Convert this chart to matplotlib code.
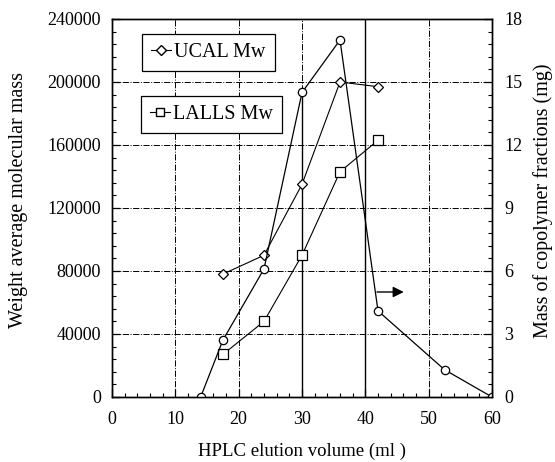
import matplotlib.pyplot as plt
import numpy as np
from matplotlib.lines import Line2D
from matplotlib.ticker import MultipleLocator

plt.rcParams['font.family'] = ['Liberation Serif', 'DejaVu Serif']

# UCAL weight average molecular mass
ucal_vol = [17.5, 24, 30, 36, 42]
ucal_mw = [78000, 90000, 135000, 200000, 197000]

# LALLS weight average molecular mass
lalls_vol = [17.5, 24, 30, 36, 42]
lalls_mw = [27000, 48000, 90000, 143000, 163000]

# mass of copolymer in each fraction (mg)
mass_vol = [14, 17.5, 24, 30, 36, 42, 52.5, 60]
mass_mg = [0, 2.7, 6.1, 14.5, 17.0, 4.1, 1.3, 0]

fig = plt.figure(figsize=(5.55, 4.62), dpi=100)
ax = fig.add_axes([0.2018, 0.1407, 0.6847, 0.8182])
ax2 = ax.twinx()

ax.set_xlim(0, 60)
ax.set_ylim(0, 240000)
ax2.set_ylim(0, 18)

# dash-dot grid, with the 30 and 40 ml lines drawn solid
for x in [10, 20, 50]:
    ax.axvline(x, color='black', lw=0.7, ls='-.', zorder=0)
ax.axvline(30, ymax=0.81, color='black', lw=1.0, zorder=0)
ax.axvline(30, ymin=0.81, color='black', lw=0.7, ls='-.', zorder=0)
ax.axvline(40, color='black', lw=1.0, zorder=0)
for y in [40000, 80000, 120000, 160000, 200000]:
    ax.axhline(y, color='black', lw=0.7, ls='-.', zorder=0)

ax.plot(ucal_vol, ucal_mw, color='black', lw=0.8, marker='D', ms=5.5,
        mfc='white', mec='black', mew=0.9)
ax.plot(lalls_vol, lalls_mw, color='black', lw=0.8, marker='s', ms=6.5,
        mfc='white', mec='black', mew=0.9)
ax2.plot(mass_vol, mass_mg, color='black', lw=0.9, marker='o', ms=6,
         mfc='white', mec='black', mew=0.9)

# arrow pointing to the right-hand axis
ax2.annotate('', xy=(46.5, 5.0), xytext=(41.4, 5.0),
             arrowprops=dict(arrowstyle='-|>', color='black', lw=1.0,
                             mutation_scale=16))

ax.xaxis.set_major_locator(MultipleLocator(10))
ax.xaxis.set_minor_locator(MultipleLocator(2))
ax.yaxis.set_major_locator(MultipleLocator(40000))
ax.yaxis.set_minor_locator(MultipleLocator(8000))
ax2.yaxis.set_major_locator(MultipleLocator(3))
ax2.yaxis.set_minor_locator(MultipleLocator(0.6))

ax.tick_params(axis='both', which='both', direction='in', labelsize=13,
               right=False, top=False)
ax.tick_params(axis='both', which='major', length=6, width=0.9)
ax.tick_params(axis='both', which='minor', length=3, width=0.8)
ax.tick_params(axis='y', pad=8)
ax.tick_params(axis='x', pad=10)
ax2.tick_params(axis='y', which='both', direction='in', labelsize=13, pad=9)
ax2.tick_params(axis='y', which='major', length=6, width=0.9)
ax2.tick_params(axis='y', which='minor', length=3, width=0.8)

for a in (ax, ax2):
    for spine in a.spines.values():
        spine.set_linewidth(1.0)

ax.set_xlabel('HPLC elution volume (ml )', fontsize=13.5)
ax.xaxis.set_label_coords(0.5, -0.122)
ax.set_ylabel('Weight average molecular mass', fontsize=14.5)
ax.yaxis.set_label_coords(-0.22, 0.52)
ax2.set_ylabel('Mass of copolymer fractions (mg)', fontsize=14.5)
ax2.yaxis.set_label_coords(1.108, 0.52)

# two separate boxed keys
ucal_key = Line2D([], [], color='black', lw=0.8, marker='D', ms=5,
                  mfc='white', mec='black')
lalls_key = Line2D([], [], color='black', lw=0.8, marker='s', ms=6,
                   mfc='white', mec='black')
leg1 = ax2.legend([ucal_key], ['UCAL Mw'], loc='upper left',
                  bbox_to_anchor=(0.079, 0.96), fontsize=14.5, frameon=True,
                  fancybox=False, edgecolor='black', framealpha=1,
                  handlelength=1.0, handletextpad=0.15, borderpad=0.45,
                  borderaxespad=0)
leg1.get_frame().set_linewidth(0.9)
ax2.add_artist(leg1)
leg2 = ax2.legend([lalls_key], ['LALLS Mw'], loc='upper left',
                  bbox_to_anchor=(0.076, 0.796), fontsize=14.5, frameon=True,
                  fancybox=False, edgecolor='black', framealpha=1,
                  handlelength=1.0, handletextpad=0.15, borderpad=0.45,
                  borderaxespad=0)
leg2.get_frame().set_linewidth(0.9)

fig.savefig('out.png', dpi=100)
